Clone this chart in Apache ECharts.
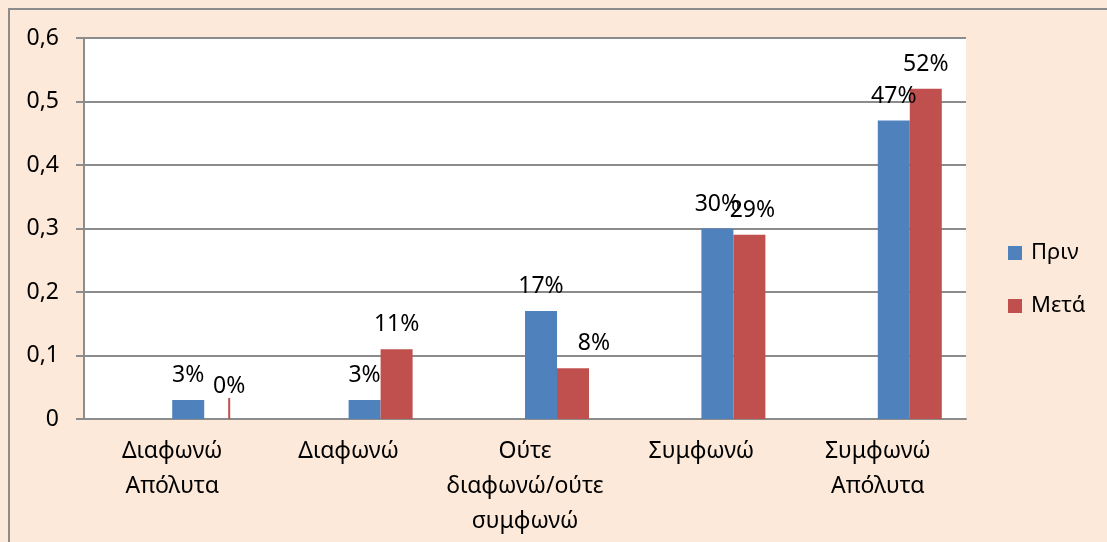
<!DOCTYPE html>
<html>
<head>
<meta charset="utf-8">
<script src="https://cdn.jsdelivr.net/npm/echarts@6/dist/echarts.min.js"></script>
<style>
  html, body { margin: 0; padding: 0; background: #fde9d9; }
  #chart { width: 1107px; height: 542px; }
</style>
</head>
<body>
<div id="chart"></div>
<script>
// categories and values
var categories = ["Διαφωνώ\nΑπόλυτα", "Διαφωνώ", "Ούτε\nδιαφωνώ/ούτε\nσυμφωνώ", "Συμφωνώ", "Συμφωνώ\nΑπόλυτα"];
var before = [0.03, 0.03, 0.17, 0.30, 0.47];
var after = [0, 0.11, 0.08, 0.29, 0.52];
var yTicks = [0, 0.1, 0.2, 0.3, 0.4, 0.5, 0.6];

var font = "Noto Sans";
var gray = "#8c8c8c";
var fs = 23;

function pct(p) {
    return Math.round(p.value * 100) + "%";
}

var labelStyle = {
    show: true,
    position: "top",
    distance: 13,
    color: "#000",
    fontFamily: font,
    fontSize: fs,
    formatter: pct
};

// the 0% label is nudged off its (empty) bar with a short leader line
var afterData = after.map(function (v, i) {
    if (v === 0) {
        return { value: v, labelLine: { show: true, lineStyle: { color: "#c0504d", width: 2 } } };
    }
    return v;
});

// small nudges of the "Μετά" labels, as placed in the original
var afterNudge = { 0: [9, -8], 2: [21, 0], 3: [3, 0] };

var myChart = echarts.init(document.getElementById("chart"));
var option = {
    backgroundColor: "#fde9d9",
    animation: false,
    textStyle: { fontFamily: font },
    grid: {
        left: 84,
        right: 141,
        top: 38,
        bottom: 123,
        show: true,
        backgroundColor: "#fff",
        borderWidth: 0
    },
    legend: {
        data: ["Πριν", "Μετά"],
        orient: "vertical",
        left: 1003,
        top: 234,
        itemWidth: 14,
        itemHeight: 14,
        itemGap: 25,
        icon: "rect",
        textStyle: {
            color: "#000",
            fontFamily: font,
            fontSize: 22,
            lineHeight: 28,
            padding: [0, 0, 0, 4]
        }
    },
    xAxis: {
        type: "category",
        data: categories,
        axisLine: { lineStyle: { color: gray, width: 2 } },
        axisTick: { length: 8, lineStyle: { color: gray, width: 2 } },
        axisLabel: {
            color: "#000",
            fontFamily: font,
            fontSize: fs,
            lineHeight: 35,
            margin: 15,
            interval: 0
        }
    },
    yAxis: {
        type: "value",
        min: 0,
        max: 0.6,
        interval: 0.1,
        axisLine: { show: true, lineStyle: { color: gray, width: 2 } },
        axisTick: { show: true, length: 8, lineStyle: { color: gray, width: 2 } },
        splitLine: { lineStyle: { color: gray, width: 2 } },
        axisLabel: {
            color: "#000",
            fontFamily: font,
            fontSize: fs,
            margin: 25,
            formatter: function (v) {
                var r = Math.round(v * 10) / 10;
                return yTicks.indexOf(r) >= 0 ? String(r).replace(".", ",") : "";
            }
        }
    },
    series: [
        // two empty slots, the original chart keeps space for them left of centre
        { name: "_a", type: "bar", barWidth: 32, barGap: "0%", data: ["-", "-", "-", "-", "-"] },
        { name: "_b", type: "bar", barWidth: 32, barGap: "0%", data: ["-", "-", "-", "-", "-"] },
        {
            name: "Πριν",
            type: "bar",
            barWidth: 32,
            barGap: "0%",
            itemStyle: { color: "#4f81bd" },
            label: labelStyle,
            data: before
        },
        {
            name: "Μετά",
            type: "bar",
            barWidth: 32,
            barGap: "0%",
            itemStyle: { color: "#c0504d" },
            label: labelStyle,
            labelLine: { show: false },
            labelLayout: function (params) {
                var n = afterNudge[params.dataIndex];
                if (n) {
                    return { dx: n[0], dy: n[1] };
                }
                return {};
            },
            data: afterData
        }
    ],
    graphic: [{
        type: "polyline",
        shape: { points: [[9, 600], [9, 9], [1200, 9]] },
        style: { stroke: "#8c8c8c", lineWidth: 2, fill: null },
        silent: true
    }]
};
myChart.setOption(option);
</script>
</body>
</html>
